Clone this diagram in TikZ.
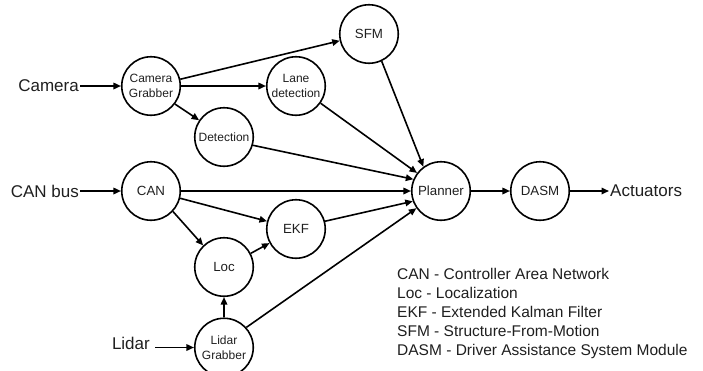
\documentclass[tikz,border=0pt]{standalone}
\usepackage{fontspec}
\setmainfont{Liberation Sans}
\usetikzlibrary{arrows.meta}
\begin{document}
\begin{tikzpicture}[x=1pt,y=-1pt,
  proc/.style={circle,draw,line width=1.6pt,minimum size=58.5pt,inner sep=0pt,align=center,
    font=\fontsize{13.3}{15}\selectfont,text=black!88},
  small/.style={font=\fontsize{12}{14.5}\selectfont},
  arr/.style={line width=1.6pt,-{Triangle[length=7.5pt,width=6.5pt]}},
  io/.style={font=\fontsize{17}{20}\selectfont,inner sep=1pt,text=black!88},
  leg/.style={font=\fontsize{15.5}{19}\selectfont,anchor=base west,inner sep=0pt,text=black!88}]
\useasboundingbox (0,0) rectangle (703,370);

% processing nodes
\node[proc,small] (cg)   at (151,86)    {Camera\\Grabber};
\node[proc]       (sfm)  at (369,34)    {SFM};
\node[proc,small] (lane) at (296,86)    {Lane\\detection};
\node[proc,small] (det)  at (224,137)   {Detection};
\node[proc]       (can)  at (151,191)   {CAN};
\node[proc]       (ekf)  at (296,229)   {EKF};
\node[proc]       (loc)  at (224,267)   {Loc};
\node[proc,small] (lg)   at (224,347.5) {Lidar\\Grabber};
\node[proc]       (plan) at (441,191)   {Planner};
\node[proc]       (dasm) at (540,191)   {DASM};

% inputs / outputs
\node[io,anchor=east] (camera) at (80,86)   {Camera};
\node[io,anchor=east] (canbus) at (80,191)  {CAN bus};
\node[io,anchor=east] (lidar)  at (151,343) {Lidar};
\node[io,anchor=west] (act)    at (609,191) {Actuators};

% connectors
\draw[arr] (camera.east) -- (cg.west);
\draw[arr] (cg.13.4) -- (sfm.193.4);
\draw[arr] (cg.east) -- (lane.west);
\draw[arr] (cg.-37) -- (det.146);
\draw[arr] (sfm.-65) -- (plan.126);
\draw[arr] (lane.-35) -- (plan.143);
\draw[arr] (det.-16.5) -- (plan.157);
\draw[arr] (canbus.east) -- (can.west);
\draw[arr] (can.east) -- (plan.west);
\draw[arr] (can.-14) -- (ekf.165);
\draw[arr] (can.-43) -- (loc.134);
\draw[arr] (loc.27) -- (ekf.208);
\draw[arr] (ekf.15.5) -- (plan.200);
\draw[arr] ([xshift=4pt]lidar.east |- lg.west) -- (lg.west);
\draw[arr] (lg.north) -- (loc.south);
\draw[arr] (lg.42) -- (plan.215);
\draw[arr] (plan.east) -- (dasm.west);
\draw[arr] (dasm.east) -- (act.west);

% legend
\node[leg] (l1) at (397,279) {CAN - Controller Area Network};
\node[leg] (l2) at (397,298) {Loc - Localization};
\node[leg] (l3) at (397,317) {EKF - Extended Kalman Filter};
\node[leg] (l4) at (397,336) {SFM - Structure-From-Motion};
\node[leg] (l5) at (397,355) {DASM - Driver Assistance System Module};
\end{tikzpicture}
\end{document}
